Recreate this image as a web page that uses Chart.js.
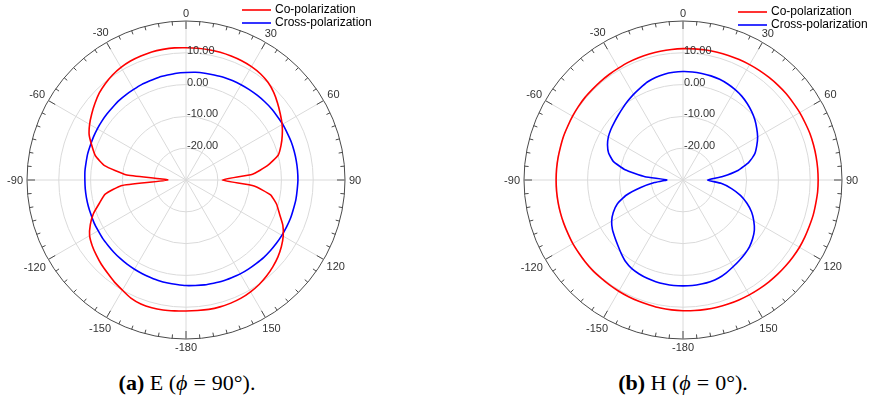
<!DOCTYPE html>
<html>
<head>
<meta charset="utf-8">
<script src="https://cdn.jsdelivr.net/npm/chart.js@4"></script>
<style>
  html, body { margin: 0; padding: 0; background: #fff; }
  body { width: 870px; height: 398px; position: relative; overflow: hidden; }
  .panel { position: absolute; top: 0; width: 435px; height: 360px; }
  .caption {
    position: absolute; top: 370px; line-height: 25px;
    font-family: "Liberation Serif", "DejaVu Serif", serif; font-size: 22px; color: #000;
    white-space: nowrap; transform: translateX(-50%);
  }
  .caption .eq { padding: 0 6px; }
</style>
</head>
<body>
<div class="panel" style="left:0"><canvas id="chartE" width="435" height="360"></canvas></div>
<div class="panel" style="left:435px"><canvas id="chartH" width="435" height="360"></canvas></div>
<div class="caption" style="left:187px"><b>(a)</b> E (<i>ϕ</i><span class="eq">=</span>90°).</div>
<div class="caption" style="left:683px"><b>(b)</b> H (<i>ϕ</i><span class="eq">=</span>0°).</div>

<script>
// Theta in degrees, clockwise from the top, 5 degree steps
const thetaLabels = [
  '0','5','10','15','20','25','30','35','40','45','50','55','60','65','70','75','80','85',
  '90','95','100','105','110','115','120','125','130','135','140','145','150','155','160','165','170','175',
  '-180','-175','-170','-165','-160','-155','-150','-145','-140','-135','-130','-125','-120','-115','-110','-105','-100','-95',
  '-90','-85','-80','-75','-70','-65','-60','-55','-50','-45','-40','-35','-30','-25','-20','-15','-10','-5'
];

// Gain rings (dB) labelled along the 0 degree axis
const gainRingTicks = [-20, -10, 0, 10];

// E-plane (phi = 90 deg), dB
const eCoPol = [
  11.6, 11.6, 11.6, 11.6, 11.5, 11.4, 11.2, 10.8, 10.1, 9.0, 7.6, 6.2, 4.9, 3.4, 1.8, 0.0, -4.0, -9.0,
  -18.6, -8.5, -3.0, -0.5, 1.3, 3.6, 5.3, 6.6, 7.7, 8.6, 9.4, 10.1, 10.6, 11.0, 11.2, 11.3, 11.3, 11.2,
  11.2, 11.3, 11.5, 11.6, 11.5, 11.0, 10.0, 9.2, 8.3, 7.6, 6.8, 6.0, 5.0, 3.2, 1.0, -1.8, -4.2, -9.5,
  -24.3, -11.0, -4.0, -0.5, 1.5, 3.6, 5.0, 6.2, 7.4, 8.6, 9.5, 10.3, 10.9, 11.3, 11.5, 11.7, 11.7, 11.7
];
const eCrossPol = [
  3.8, 4.0, 4.1, 4.2, 4.4, 4.5, 4.6, 4.7, 4.8, 4.9, 5.0, 5.0, 5.1, 5.1, 5.2, 5.2, 5.2, 5.2,
  5.2, 5.1, 5.1, 5.0, 5.0, 4.9, 4.8, 4.7, 4.6, 4.5, 4.3, 4.2, 4.1, 3.9, 3.8, 3.6, 3.5, 3.3,
  3.2, 3.0, 2.9, 2.8, 2.6, 2.5, 2.4, 2.3, 2.2, 2.1, 2.0, 2.0, 1.9, 1.9, 1.8, 1.8, 1.8, 1.8,
  1.8, 1.9, 1.9, 2.0, 2.0, 2.1, 2.2, 2.3, 2.4, 2.5, 2.7, 2.8, 2.9, 3.1, 3.2, 3.4, 3.5, 3.7
];

// H-plane (phi = 0 deg), dB
const hCoPol = [
  11.3, 11.4, 11.5, 11.6, 11.7, 11.8, 11.9, 12.0, 12.1, 12.2, 12.3, 12.3, 12.4, 12.4, 12.5, 12.5, 12.5, 12.5,
  12.5, 12.5, 12.4, 12.4, 12.3, 12.3, 12.3, 12.2, 12.1, 12.0, 11.9, 11.8, 11.7, 11.6, 11.5, 11.4, 11.3, 11.2,
  11.1, 11.0, 10.9, 10.7, 10.6, 10.5, 10.4, 10.3, 10.2, 10.2, 10.1, 10.0, 10.0, 9.9, 9.9, 9.9, 9.9, 9.9,
  9.9, 9.9, 9.9, 9.9, 10.0, 10.0, 10.1, 10.2, 10.3, 10.3, 10.4, 10.5, 10.6, 10.8, 10.9, 11.0, 11.1, 11.2
];
const hCrossPol = [
  4.1, 4.1, 4.0, 3.9, 3.7, 3.3, 2.8, 2.2, 1.4, 0.5, -0.5, -1.7, -2.9, -4.4, -6.0, -8.6, -12.3, -17.5,
  -22.3, -18.0, -14.5, -11.3, -8.6, -6.2, -4.3, -2.6, -1.4, -0.4, 0.3, 0.9, 1.5, 2.2, 2.8, 3.1, 3.2, 3.3,
  3.3, 3.3, 3.2, 3.1, 2.9, 2.6, 2.2, 1.4, 0.2, -1.0, -2.0, -2.9, -4.1, -5.8, -8.0, -11.5, -16.5, -21.0,
  -24.9, -18.0, -11.5, -7.3, -5.1, -3.8, -2.9, -2.3, -1.8, -1.2, -0.5, 0.3, 1.1, 1.9, 2.8, 3.4, 3.8, 4.0
];

const GRID_LIGHT = '#dadada';
const FRAME_DARK = '#4a4a4a';
const TEXT_GREY = '#333333';
const SANS = '"Liberation Sans", Arial, sans-serif';

// Outer angle ticks, angle labels, gain labels and the inline legend
const polarFrame = {
  id: 'polarFrame',
  afterDatasetsDraw(chart, args, opts) {
    const s = chart.scales.r;
    const ctx = chart.ctx;
    const R = s.drawingArea;
    const labels = chart.data.labels;
    ctx.save();

    ctx.strokeStyle = FRAME_DARK;
    ctx.lineWidth = 1;
    labels.forEach((lab, i) => {
      const major = Number(lab) % 30 === 0;
      const p0 = s.getPointPosition(i, R);
      const p1 = s.getPointPosition(i, R - (major ? 8 : 4));
      ctx.beginPath();
      ctx.moveTo(p0.x, p0.y);
      ctx.lineTo(p1.x, p1.y);
      ctx.stroke();
    });

    ctx.font = '11px ' + SANS;
    ctx.fillStyle = TEXT_GREY;
    ctx.textAlign = 'center';
    ctx.textBaseline = 'middle';
    labels.forEach((lab, i) => {
      if (Number(lab) % 30 !== 0) return;
      const w = ctx.measureText(lab).width;
      const a = s.getIndexAngle(i) - Math.PI / 2;
      const ext = Math.abs(Math.cos(a)) * w / 2 + Math.abs(Math.sin(a)) * 4;
      const p = s.getPointPosition(i, R + 4 + ext);
      ctx.fillText(lab, p.x, p.y + 0.5);
    });

    ctx.textAlign = 'left';
    gainRingTicks.forEach(v => {
      const d = s.getDistanceFromCenterForValue(v);
      ctx.fillText(v.toFixed(2), s.xCenter + 1, s.yCenter - d - 2);
    });

    ctx.font = '12px ' + SANS;
    ctx.fillStyle = '#000';
    chart.data.datasets.forEach((ds, k) => {
      const y = opts.legendY + k * 13;
      ctx.strokeStyle = ds.borderColor;
      ctx.lineWidth = 1.6;
      ctx.beginPath();
      ctx.moveTo(opts.legendX, y);
      ctx.lineTo(opts.legendX + 29, y);
      ctx.stroke();
      ctx.fillText(ds.label, opts.legendX + 33, y);
    });
    ctx.restore();
  }
};

function polarChart(id, co, cross, pad, legendPos) {
  return new Chart(document.getElementById(id), {
    type: 'radar',
    data: {
      labels: thetaLabels,
      datasets: [
        { label: 'Co-polarization', data: co, borderColor: '#ff0000', borderWidth: 1.6,
          pointRadius: 0, fill: false, tension: 0.15 },
        { label: 'Cross-polarization', data: cross, borderColor: '#0000ff', borderWidth: 1.6,
          pointRadius: 0, fill: false, tension: 0.15 }
      ]
    },
    options: {
      responsive: false,
      animation: false,
      layout: { padding: pad },
      plugins: {
        legend: { display: false },
        tooltip: { enabled: false },
        polarFrame: legendPos
      },
      scales: {
        r: {
          min: -30,
          max: 20,
          ticks: { display: false, stepSize: 10 },
          pointLabels: { display: false },
          grid: {
            circular: true,
            lineWidth: 1,
            color: c => (c.tick && c.tick.value === 20 ? FRAME_DARK : GRID_LIGHT)
          },
          angleLines: {
            color: GRID_LIGHT,
            lineWidth: c => (Number(thetaLabels[c.index]) % 30 === 0 ? 1 : 0)
          }
        }
      }
    },
    plugins: [polarFrame]
  });
}

polarChart('chartE', eCoPol, eCrossPol, { left: 27, right: 90, top: 21, bottom: 21 }, { legendX: 242, legendY: 10 });
polarChart('chartH', hCoPol, hCrossPol, { left: 89, right: 28, top: 21, bottom: 21 }, { legendX: 303, legendY: 12 });
</script>
</body>
</html>
